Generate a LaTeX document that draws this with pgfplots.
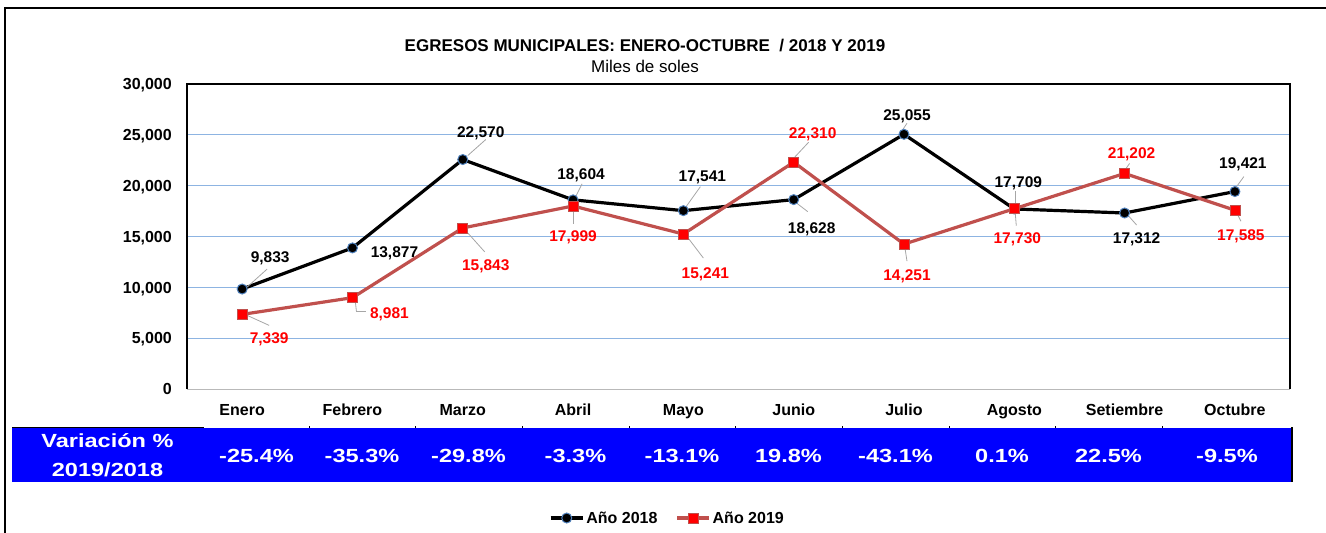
\documentclass[border=0pt]{standalone}
\usepackage{fontspec}
\setmainfont{Liberation Sans}
\newfontfamily\bandfont{Liberation Sans}[FakeStretch=1.24]
\usepackage{pgfplots}
\pgfplotsset{compat=1.18}
\usetikzlibrary{calc}
\definecolor{gridblue}{HTML}{8DB4E2}
\definecolor{mkedge}{HTML}{4F81BD}
\definecolor{lineB}{HTML}{C0504D}
\definecolor{leader}{HTML}{A6A6A6}
\definecolor{bandblue}{HTML}{0000FF}
\newcommand\lblfont{\fontsize{15.5}{16}\selectfont\bfseries}
\newcommand\tkfont{\fontsize{16}{16}\selectfont\bfseries}
\newcommand\dlab[6]{\node[font=\lblfont,text=#5,inner sep=0pt,text depth=0pt,anchor=center] at ($(axis cs:#1,#2)+(#3pt,#4pt)$) {#6};}
\newcommand\lead[6]{\draw[leader,line width=0.8pt] ($(axis cs:#1,#2)+(#3pt,#4pt)$) -- ($(axis cs:#1,#2)+(#5pt,#6pt)$);}
\begin{document}
\begin{tikzpicture}
\path[use as bounding box] (0pt,0pt) rectangle (1326pt,533pt);
% outer frame
\draw[line width=1.5pt] (5pt,0pt) -- (5pt,525pt) -- (1326pt,525pt);
% titles
\node[font=\fontsize{17}{17}\selectfont\bfseries,inner sep=0pt,anchor=base] at (645pt,481pt) {EGRESOS MUNICIPALES: ENERO-OCTUBRE \ / 2018 Y 2019};
\node[font=\fontsize{17}{17}\selectfont,inner sep=0pt,anchor=base] at (645pt,460pt) {Miles de soles};
\begin{axis}[
  at={(187pt,144pt)}, anchor=south west,
  width=1103pt, height=305pt, scale only axis,
  xmin=-0.5, xmax=9.5, ymin=0, ymax=30000,
  clip=false,
  axis line style={draw=none},
  xtick={0,...,9},
  xticklabels={Enero,Febrero,Marzo,Abril,Mayo,Junio,Julio,Agosto,Setiembre,Octubre},
  ytick={0,5000,...,30000},
  major tick length=0pt,
  ymajorgrids, grid style={gridblue, line width=1pt},
  scaled y ticks=false,
  /pgf/number format/.cd, 1000 sep={,}, assume math mode=true, /pgfplots/.cd,
  yticklabel style={font=\tkfont, anchor=base east, inner sep=0pt, xshift=-15pt, yshift=-5.7pt},
  xticklabel style={font=\tkfont, anchor=base, inner sep=0pt, yshift=-26.7pt},
  legend columns=2,
  legend style={at={(0.4356,-0.423)}, anchor=center, draw=none, fill=none, font=\tkfont,
    /tikz/every even column/.append style={column sep=16pt}},
  legend image code/.code={\draw[mark repeat=2,mark phase=2,#1] plot coordinates {(0pt,0pt) (16pt,0pt) (32pt,0pt)};},
]
\addplot[black, line width=3.2pt, mark=*, mark size=5pt, mark options={fill=black, draw=mkedge, line width=1pt}]
 coordinates {(0,9833) (1,13877) (2,22570) (3,18604) (4,17541) (5,18628) (6,25055) (7,17709) (8,17312) (9,19421)};
\addlegendentry{Año 2018}
\addplot[lineB, line width=3.2pt, mark=square*, mark size=5pt, mark options={fill=red, draw=lineB, line width=0.8pt}]
 coordinates {(0,7339) (1,8981) (2,15843) (3,17999) (4,15241) (5,22310) (6,14251) (7,17730) (8,21202) (9,17585)};
\addlegendentry{Año 2019}
% plot area border
\draw[gray!55, line width=1pt] (rel axis cs:0,0) -- (rel axis cs:1,0);
\draw[black, line width=1.3pt] (rel axis cs:0,0) -- (rel axis cs:0,1) -- (rel axis cs:1,1) -- (rel axis cs:1,0);
% leaders 2018
\lead{0}{9833}{5}{2}{25}{20}
\lead{2}{22570}{5}{4}{23}{20}
\lead{3}{18604}{2}{2}{9}{16}
\lead{4}{17541}{2}{3}{17}{24}
\lead{5}{18628}{1}{-2}{14}{-12}
\lead{6}{25055}{-1}{5}{3}{11}
\lead{7}{17709}{1}{5}{1}{18}
\lead{8}{17312}{4}{-3}{12}{-12}
\lead{9}{19421}{1}{4}{9}{15}
% leaders 2019
\lead{0}{7339}{5}{-1}{27}{-11}
\lead{1}{8981}{3}{-5}{4}{-14}
\lead{1}{8981}{4}{-14}{14}{-14}
\lead{2}{15843}{5}{-5}{22}{-24}
\lead{3}{17999}{0}{-6}{0}{-18}
\lead{4}{15241}{4}{-3}{20}{-24}
\lead{5}{22310}{1}{5}{15}{20}
\lead{6}{14251}{1}{-4}{3}{-17}
\lead{7}{17730}{1}{-5}{2}{-17}
\lead{8}{21202}{0}{3}{5}{10}
\lead{9}{17585}{3}{-5}{6}{-11}
% labels 2018
\dlab{0}{9833}{28}{32}{black}{9,833}
\dlab{1}{13877}{42}{-4}{black}{13,877}
\dlab{2}{22570}{18}{27}{black}{22,570}
\dlab{3}{18604}{8}{26}{black}{18,604}
\dlab{4}{17541}{19}{34}{black}{17,541}
\dlab{5}{18628}{18}{-28}{black}{18,628}
\dlab{6}{25055}{3}{19}{black}{25,055}
\dlab{7}{17709}{4}{27}{black}{17,709}
\dlab{8}{17312}{12}{-25}{black}{17,312}
\dlab{9}{19421}{8}{28}{black}{19,421}
% labels 2019
\dlab{0}{7339}{27}{-24}{red}{7,339}
\dlab{1}{8981}{37}{-15}{red}{8,981}
\dlab{2}{15843}{23}{-37}{red}{15,843}
\dlab{3}{17999}{0}{-30}{red}{17,999}
\dlab{4}{15241}{22}{-39}{red}{15,241}
\dlab{5}{22310}{19}{29}{red}{22,310}
\dlab{6}{14251}{3}{-31}{red}{14,251}
\dlab{7}{17730}{3}{-29}{red}{17,730}
\dlab{8}{21202}{7}{20}{red}{21,202}
\dlab{9}{17585}{6}{-25}{red}{17,585}
\end{axis}
% variation band
\fill[bandblue] (12pt,51pt) rectangle (1292pt,105pt);
\draw[line width=1.5pt] (12pt,105.5pt) -- (204pt,105.5pt);
\draw[line width=2pt] (1292pt,51pt) -- (1292pt,105.5pt);
\foreach \xx in {309,415,522,629,735,842,949,1055,1162}{\draw[line width=1pt] (\xx pt,105pt) -- (\xx pt,107pt);}
\begin{scope}[every node/.style={font=\bandfont\bfseries\fontsize{19}{19}\selectfont, text=white, inner sep=0pt, anchor=base}]
\node at (107.5pt,85pt) {Variación \%};
\node at (107.5pt,56pt) {2019/2018};
\node at (256.5pt,70pt) {-25.4\%};
\node at (362pt,70pt) {-35.3\%};
\node at (468.5pt,70pt) {-29.8\%};
\node at (575.5pt,70pt) {-3.3\%};
\node at (682pt,70pt) {-13.1\%};
\node at (788.5pt,70pt) {19.8\%};
\node at (895.5pt,70pt) {-43.1\%};
\node at (1002pt,70pt) {0.1\%};
\node at (1108.5pt,70pt) {22.5\%};
\node at (1227pt,70pt) {-9.5\%};
\end{scope}
\end{tikzpicture}
\end{document}
